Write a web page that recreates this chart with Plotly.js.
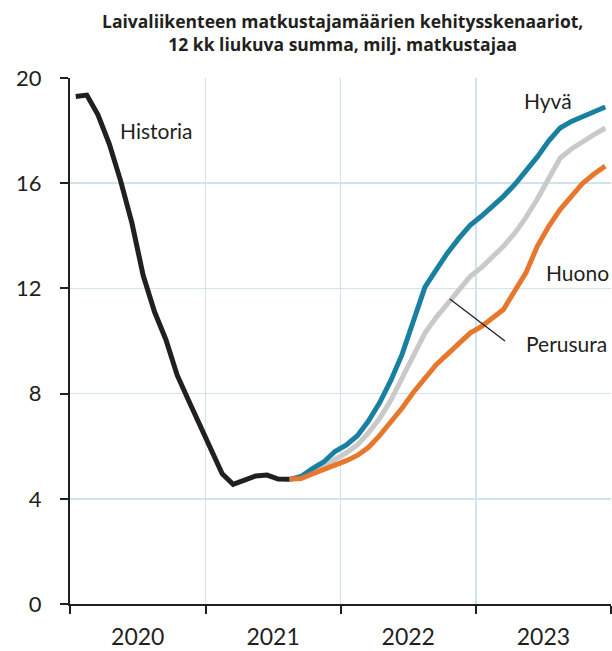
<!DOCTYPE html>
<html>
<head>
<meta charset="utf-8">
<script src="https://cdn.plot.ly/plotly-3.0.1.min.js"></script>
<style>html,body{margin:0;padding:0;background:#fff;}#chart{width:612px;height:651px;}</style>
</head>
<body>
<div id="chart"></div>
<script>
var histMonths = ["2020-01","2020-02","2020-03","2020-04","2020-05","2020-06","2020-07","2020-08","2020-09","2020-10","2020-11","2020-12","2021-01","2021-02","2021-03","2021-04","2021-05","2021-06","2021-07","2021-08"];
var historia = [19.3,19.35,18.6,17.5,16.1,14.5,12.5,11.1,10.05,8.7,7.75,6.8,5.9,4.95,4.55,4.72,4.87,4.9,4.75,4.74];

var scenMonths = ["2021-08","2021-09","2021-10","2021-11","2021-12","2022-01","2022-02","2022-03","2022-04","2022-05","2022-06","2022-07","2022-08","2022-09","2022-10","2022-11","2022-12","2023-01","2023-02","2023-03","2023-04","2023-05","2023-06","2023-07","2023-08","2023-09","2023-10","2023-11","2023-12"];
var hyva     = [4.74,4.85,5.15,5.4,5.8,6.05,6.4,6.95,7.65,8.5,9.5,10.7,12.05,12.7,13.35,13.9,14.4,14.75,15.1,15.5,15.95,16.45,17.0,17.6,18.1,18.35,18.55,18.75,18.9];
var perusura = [4.74,4.8,5.0,5.2,5.5,5.75,6.05,6.5,7.05,7.75,8.6,9.45,10.3,10.9,11.4,11.95,12.45,12.8,13.2,13.6,14.1,14.7,15.4,16.2,16.95,17.3,17.6,17.85,18.1];
var huono    = [4.74,4.77,4.95,5.1,5.3,5.45,5.65,5.95,6.4,6.9,7.45,8.05,8.6,9.1,9.5,9.9,10.3,10.55,10.85,11.2,11.9,12.6,13.6,14.35,15.0,15.5,16.0,16.35,16.65];

var yTicks = [0,4,8,12,16,20];
var titleLines = ["Laivaliikenteen matkustajamäärien kehitysskenaariot,", "12 kk liukuva summa, milj. matkustajaa"];

var FONT = "Lato, 'Liberation Sans', sans-serif";
var TFONT = "'Open Sans', 'Liberation Sans', sans-serif";
var TXT = "#231f20";

function line(x, y, color, name) {
  return {x: x, y: y, type: "scatter", mode: "lines", name: name,
    xperiod: "M1", xperiodalignment: "middle",
    line: {color: color, width: 5, shape: "linear"}, hoverinfo: "skip"};
}

var data = [
  line(histMonths, historia, "#231f20", "Historia"),
  line(scenMonths, perusura, "#c9c9c9", "Perusura"),
  line(scenMonths, hyva, "#1a80a2", "Hyvä"),
  line(scenMonths, huono, "#e8772e", "Huono")
];

var layout = {
  width: 612, height: 651,
  margin: {l: 70, r: 1, t: 78, b: 47, pad: 0},
  paper_bgcolor: "#fff", plot_bgcolor: "#fff",
  showlegend: false,
  font: {family: FONT, color: TXT},
  xaxis: {
    type: "date",
    range: ["2020-01-01", "2024-01-01"],
    tickmode: "linear", tick0: "2020-01-01", dtick: "M12",
    ticklabelmode: "period", tickformat: "%Y",
    ticks: "outside", ticklen: 8, tickwidth: 2, tickcolor: TXT,
    showline: true, linecolor: TXT, linewidth: 2,
    showgrid: true, gridcolor: "#cfe4ec", gridwidth: 1.5,
    zeroline: false,
    tickfont: {family: FONT, size: 23, color: TXT},
    ticklabelstandoff: 3,
    fixedrange: true
  },
  yaxis: {
    range: [0, 20],
    tickmode: "array", tickvals: yTicks,
    ticks: "outside", ticklen: 8, tickwidth: 2, tickcolor: TXT,
    showline: true, linecolor: TXT, linewidth: 2,
    showgrid: true, gridcolor: "#cfe4ec", gridwidth: 1.5,
    zeroline: false,
    tickfont: {family: FONT, size: 22, color: TXT},
    ticklabelstandoff: 14,
    fixedrange: true
  },
  annotations: [
    {text: "<b>" + titleLines.join("<br>") + "</b>",
     x: 0.503, xref: "paper", xanchor: "center", y: 1.0865, yref: "paper", yanchor: "middle",
     align: "center", showarrow: false, font: {family: TFONT, size: 17.5, color: TXT}},
    {text: "Historia", x: 0.0887, xref: "paper", xanchor: "left", y: 18.0, yref: "y", yanchor: "middle", showarrow: false, font: {family: FONT, size: 21, color: TXT}},
    {text: "Hyvä", x: 0.884, xref: "paper", xanchor: "center", y: 19.15, yref: "y", yanchor: "middle", showarrow: false, font: {family: FONT, size: 21, color: TXT}},
    {text: "Huono", x: 1.0, xref: "paper", xanchor: "right", y: 12.6, yref: "y", yanchor: "middle", showarrow: false, font: {family: FONT, size: 21, color: TXT}},
    {text: "Perusura", x: 0.996, xref: "paper", xanchor: "right", y: 9.9, yref: "y", yanchor: "middle", showarrow: false, font: {family: FONT, size: 21, color: TXT}}
  ],
  shapes: [
    {type: "line", xref: "paper", yref: "y", x0: 0.702, y0: 11.6, x1: 0.804, y1: 10.0, line: {color: TXT, width: 1.3}}
  ]
};

Plotly.newPlot("chart", data, layout, {displayModeBar: false, staticPlot: true});
</script>
</body>
</html>
